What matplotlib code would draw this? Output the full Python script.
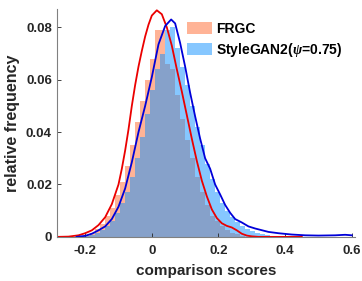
import numpy as np
import matplotlib
import matplotlib.pyplot as plt
matplotlib.use('Agg')

plt.rcParams['font.family'] = ['Liberation Sans', 'DejaVu Sans']
plt.rcParams['font.weight'] = 'bold'
plt.rcParams['mathtext.fontset'] = 'custom'
plt.rcParams['mathtext.it'] = 'Liberation Serif:italic'

# histogram bins (relative frequency per bin)
bin_start = -0.216
bin_width = 0.015
frgc_hist = [0.0003, 0.0007, 0.0015, 0.003, 0.005, 0.008, 0.011, 0.016, 0.021,
             0.027, 0.035, 0.044, 0.052, 0.060, 0.068, 0.079, 0.079, 0.066,
             0.064, 0.054, 0.045, 0.037, 0.030, 0.023, 0.017, 0.012, 0.008,
             0.006, 0.004, 0.0025, 0.0015, 0.001, 0.0005]
sg_hist = [0.0002, 0.0004, 0.0008, 0.0015, 0.0025, 0.004, 0.006, 0.009, 0.013,
           0.017, 0.023, 0.030, 0.038, 0.047, 0.056, 0.064, 0.070, 0.079,
           0.080, 0.072, 0.065, 0.058, 0.050, 0.042, 0.035, 0.028, 0.022,
           0.017, 0.013, 0.010, 0.0075, 0.0055, 0.004, 0.003, 0.0022, 0.0015,
           0.001, 0.0008, 0.0005]

# density curves
red_x = [-0.285, -0.25, -0.22, -0.20, -0.18, -0.16, -0.14, -0.12, -0.10, -0.09,
         -0.08, -0.07, -0.06, -0.05, -0.04, -0.03, -0.02, -0.01, 0.0, 0.015,
         0.03, 0.045, 0.06, 0.075, 0.09, 0.105, 0.12, 0.135, 0.15,
         0.165, 0.18, 0.195, 0.21, 0.225, 0.24, 0.255, 0.27, 0.285, 0.30,
         0.32, 0.45]
red_y = [0.0, 0.0001, 0.0006, 0.0014, 0.0025, 0.0045, 0.0075, 0.0125, 0.020, 0.026,
         0.033, 0.041, 0.050, 0.058, 0.065, 0.071, 0.0765, 0.081, 0.0845, 0.0865,
         0.085, 0.080, 0.073, 0.064, 0.0555, 0.0465, 0.0375, 0.029, 0.0215,
         0.0155, 0.0105, 0.0072, 0.0052, 0.0042, 0.0036, 0.0025, 0.0012, 0.0005, 0.0002,
         0.0, 0.0]
blue_x = [-0.226, -0.20, -0.18, -0.16, -0.14, -0.12, -0.10, -0.08, -0.06, -0.04,
          -0.02, 0.0, 0.02, 0.04, 0.058, 0.07, 0.085, 0.10, 0.115, 0.13,
          0.145, 0.16, 0.175, 0.19, 0.205, 0.22, 0.235, 0.25, 0.27, 0.29,
          0.31, 0.35, 0.38, 0.42, 0.46, 0.50, 0.55, 0.58, 0.60]
blue_y = [0.0, 0.0004, 0.0012, 0.0025, 0.0040, 0.0068, 0.0115, 0.0185, 0.0285, 0.040,
          0.050, 0.061, 0.0735, 0.0805, 0.083, 0.0815, 0.074, 0.065, 0.055, 0.046,
          0.0375, 0.030, 0.026, 0.020, 0.0162, 0.0122, 0.0092, 0.0068, 0.0055, 0.0040,
          0.0032, 0.0019, 0.0014, 0.0009, 0.0006, 0.0005, 0.0006, 0.0008, 0.0006]

frgc_color = (1.0, 0.41, 0.18)
sg_color = (0.06, 0.57, 1.0)
axcol = (0.15, 0.15, 0.15)

fig = plt.figure(figsize=(3.62, 2.81), dpi=100)
ax = fig.add_axes([0.157, 0.157, 0.824, 0.811])

frgc_left = bin_start + bin_width * np.arange(len(frgc_hist))
sg_left = bin_start + bin_width * np.arange(len(sg_hist))
ax.bar(frgc_left, frgc_hist, width=bin_width, align='edge', color=frgc_color,
       alpha=0.5, linewidth=0, label='FRGC')
ax.bar(sg_left, sg_hist, width=bin_width, align='edge', color=sg_color,
       alpha=0.5, linewidth=0, label=r'StyleGAN2($\psi$=0.75)')
ax.plot(red_x, red_y, color=(0.92, 0.0, 0.0), lw=1.3)
ax.plot(blue_x, blue_y, color=(0.0, 0.0, 0.85), lw=1.3)

ax.set_xlim(-0.285, 0.61)
ax.set_ylim(0, 0.087)
ax.set_xticks([-0.2, 0, 0.2, 0.4, 0.6])
ax.set_xticklabels(['-0.2', '0', '0.2', '0.4', '0.6'])
ax.set_yticks([0, 0.02, 0.04, 0.06, 0.08])
ax.set_yticklabels(['0', '0.02', '0.04', '0.06', '0.08'])
ax.tick_params(direction='in', length=3, width=0.6, colors=axcol, labelsize=9.5)
ax.tick_params(axis='x', pad=6)
for s in ['top', 'right']:
    ax.spines[s].set_visible(False)
for s in ['left', 'bottom']:
    ax.spines[s].set_color((0.5, 0.5, 0.5))
    ax.spines[s].set_linewidth(0.8)

ax.set_xlabel('comparison scores', fontsize=11, fontweight='bold', color=axcol, labelpad=5)
ax.set_ylabel('relative frequency', fontsize=11.5, fontweight='bold', color=axcol, labelpad=4)

ax.legend(loc='upper right', frameon=False, fontsize=10, handlelength=1.8,
          handleheight=1.0, labelspacing=0.35, handletextpad=0.3,
          borderaxespad=0.2, bbox_to_anchor=(0.985, 0.98))

fig.savefig('out.png', dpi=100)
